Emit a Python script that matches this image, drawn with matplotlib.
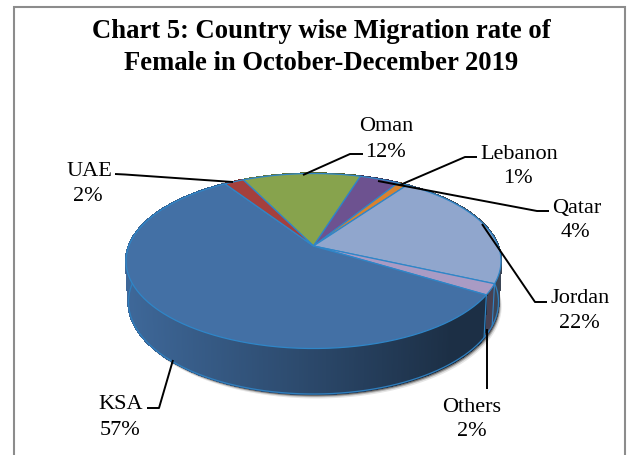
import numpy as np
import matplotlib
matplotlib.use('Agg')
import matplotlib.pyplot as plt
from matplotlib.patches import Polygon, Rectangle

countries = ['Oman', 'Qatar', 'Lebanon', 'Jordan', 'Others', 'KSA', 'UAE']
rates = [12, 4, 1, 22, 2, 57, 2]
colors = ['#87a34d', '#6d5290', '#d9822f', '#90a6cd', '#a99bc4', '#4370a5', '#a5403d']
title_lines = ['Chart 5: Country wise Migration rate of', 'Female in October-December 2019']

plt.rcParams['font.family'] = ['Liberation Serif', 'DejaVu Serif']

# pie geometry in pixels, the 3d look is a projective map of a circle
cx, cy, rx, ry = 313.5, 262.0, 187.5, 87.5
apex = 15.0
k = 2 * apex / (2 * ry)
rx_low, ry_low, cy_low = 185.0, 92.0, 303.0
start = 116.0


def project(theta):
    t = np.radians(theta)
    w = 1 + k * np.sin(t)
    px = rx * np.sqrt(1 - k ** 2) * np.cos(t) / w
    py = (ry * np.sin(t) + apex) / w
    return px, py


def top_xy(theta):
    px, py = project(theta)
    return cx + px, cy - py


def low_xy(theta):
    px, py = project(theta)
    return cx + px * rx_low / rx, cy_low - py * ry_low / ry


def wall_shade(x):
    return np.interp(x, [130, 300, 450, 500], [0.92, 0.66, 0.42, 0.42])


fig = plt.figure(figsize=(6.33, 4.56), dpi=100)
ax = fig.add_axes([0, 0, 1, 1])
ax.set_xlim(0, 633)
ax.set_ylim(456, 0)
ax.axis('off')

# frame runs off the bottom of the picture
ax.add_patch(Rectangle((13.5, 8), 611.5, 470, fc='white', ec='#8c8c8c', lw=1.5))

# shadow
th = np.linspace(0, 360, 400)
for off, al in [(4.5, 0.1), (3.2, 0.2), (2.2, 0.35), (1.2, 0.6)]:
    lx, ly = low_xy(th)
    ax.add_patch(Polygon(np.c_[lx + off * 0.7, ly + off], fc='black', ec='none', alpha=al))

# side walls
angles = start - np.cumsum([0] + rates) * 3.6
for i in range(len(rates)):
    a0, a1 = angles[i], angles[i + 1]
    steps = np.linspace(a0, a1, max(int(abs(a1 - a0)) * 2, 2) + 1)
    base = np.array(matplotlib.colors.to_rgb(colors[i]))
    for s0, s1 in zip(steps[:-1], steps[1:]):
        x0, y0 = top_xy(s0)
        x1, y1 = top_xy(s1)
        x2, y2 = low_xy(s1)
        x3, y3 = low_xy(s0)
        col = base * wall_shade((x0 + x1) / 2)
        ax.add_patch(Polygon([[x0, y0], [x1, y1], [x2, y2], [x3, y3]], fc=col, ec=col, lw=1,
                             antialiased=False))
    x0, y0 = low_xy(a0)
    x1, y1 = top_xy(a0)
    if y0 > cy + 10:
        ax.plot([x0, x1], [y0, y1], color='#2f86c8', lw=0.8, zorder=1)

lx, ly = low_xy(np.linspace(-200, 20, 200))
ax.plot(lx, ly, color='#2f7fbe', lw=0.9, zorder=1)

# top face
apex_x, apex_y = cx, cy - apex
for i in range(len(rates)):
    steps = np.linspace(angles[i], angles[i + 1], 80)
    x, y = top_xy(steps)
    pts = np.r_[[[apex_x, apex_y]], np.c_[x, y]]
    ax.add_patch(Polygon(pts, fc=colors[i], ec='#2f86c8', lw=0.9, joinstyle='round'))

# leader lines
leaders = [
    ([115, 125, 233], [175, 175.5, 183]),
    ([303, 350, 363], [176, 155, 155]),
    ([400, 465, 477], [186, 158, 158]),
    ([378, 537, 549], [182, 212, 212]),
    ([482, 535, 547], [225, 303, 303]),
    ([487, 487], [330, 390]),
    ([173, 159, 147], [361, 409, 409]),
]
for lxs, lys in leaders:
    ax.plot(lxs, lys, color='black', lw=1.4, solid_capstyle='butt', zorder=3)

# x and y of name line, x and y of percent line (text centres)
labels = {
    'Oman': (386, 124, 385, 150),
    'Qatar': (577, 206, 575, 230),
    'Lebanon': (519, 152, 518, 176),
    'Jordan': (580, 296, 579, 321),
    'Others': (472, 405, 472, 429),
    'KSA': (121, 402, 120, 428),
    'UAE': (89.5, 169, 88, 194),
}
for name, val in zip(countries, rates):
    x1, y1, x2, y2 = labels[name]
    ax.text(x1, y1 + 7, name, ha='center', va='baseline', fontsize=16, color='black')
    ax.text(x2, y2 + 7, '%d%%' % val, ha='center', va='baseline', fontsize=16, color='black')

ax.text(321, 38, title_lines[0], ha='center', va='baseline', fontsize=19.2, fontweight='bold')
ax.text(321, 70, title_lines[1], ha='center', va='baseline', fontsize=19.2, fontweight='bold')

fig.savefig('out.png', dpi=100)
